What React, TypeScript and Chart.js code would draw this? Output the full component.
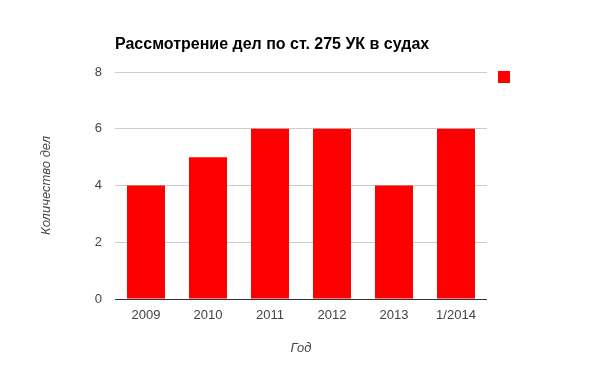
import React, { useEffect, useRef } from "react";
import { Chart, registerables } from "chart.js";

Chart.register(...registerables);

const categories = ["2009", "2010", "2011", "2012", "2013", "1/2014"];
const caseCounts = [4, 5, 6, 6, 4, 6];
const yTicks = [0, 2, 4, 6, 8];
const chartTitle = "Рассмотрение дел по ст. 275 УК в судах";
const yTitle = "Количество дел";
const xTitle = "Год";
const seriesColor = "#ff0000";

const FONT = "Arial, 'Liberation Sans', sans-serif";

const overlayPlugin = {
  id: "overlay",
  afterDraw(chart: any) {
    const { ctx, chartArea } = chart;
    ctx.save();
    ctx.fillStyle = "#000";
    ctx.font = `bold 16px ${FONT}`;
    ctx.textAlign = "left";
    ctx.textBaseline = "middle";
    ctx.fillText(chartTitle, chartArea.left, 45);
    // legend marker (no label text in reference)
    ctx.fillStyle = seriesColor;
    ctx.fillRect(chartArea.right + 11, 71, 12, 12);
    ctx.restore();
  },
};

export default function App() {
  const ref = useRef<HTMLCanvasElement>(null);
  useEffect(() => {
    if (!ref.current) return;
    const chart = new Chart(ref.current, {
      type: "bar",
      data: {
        labels: categories,
        datasets: [
          {
            label: "",
            data: caseCounts,
            backgroundColor: seriesColor,
            categoryPercentage: 1,
            barPercentage: 0.613,
          },
        ],
      },
      plugins: [overlayPlugin],
      options: {
        animation: false,
        responsive: false,
        maintainAspectRatio: false,
        layout: { padding: { left: 39, right: 113, top: 72, bottom: 8 } },
        plugins: {
          legend: { display: false },
          title: { display: false },
          tooltip: { enabled: false },
        },
        scales: {
          x: {
            grid: { display: false },
            border: { display: false },
            ticks: { color: "#444", font: { family: FONT, size: 13 }, padding: 1 },
            title: {
              display: true,
              text: xTitle,
              color: "#444",
              font: { family: FONT, size: 13, style: "italic" },
              padding: { top: 0, bottom: 7 },
            },
            afterFit: (s: any) => {
              s.height = 64;
            },
          },
          y: {
            min: 0,
            max: 8,
            afterBuildTicks: (s: any) => {
              s.ticks = yTicks.map((v) => ({ value: v }));
            },
            grid: {
              drawTicks: false,
              color: (c: any) => (c.tick && c.tick.value === 0 ? "#333" : "#ccc"),
            },
            border: { display: false },
            ticks: { color: "#444", font: { family: FONT, size: 13 }, padding: 13 },
            title: {
              display: true,
              text: yTitle,
              color: "#444",
              font: { family: FONT, size: 13, style: "italic" },
              padding: { top: 0, bottom: 0 },
            },
            afterFit: (s: any) => {
              s.width = 76;
            },
          },
        },
      },
    });
    return () => chart.destroy();
  }, []);
  return (
    <div style={{ position: "fixed", left: 0, top: 0, width: 600, height: 371, background: "#fff" }}>
      <canvas ref={ref} width={600} height={371} style={{ width: 600, height: 371 }} />
    </div>
  );
}
